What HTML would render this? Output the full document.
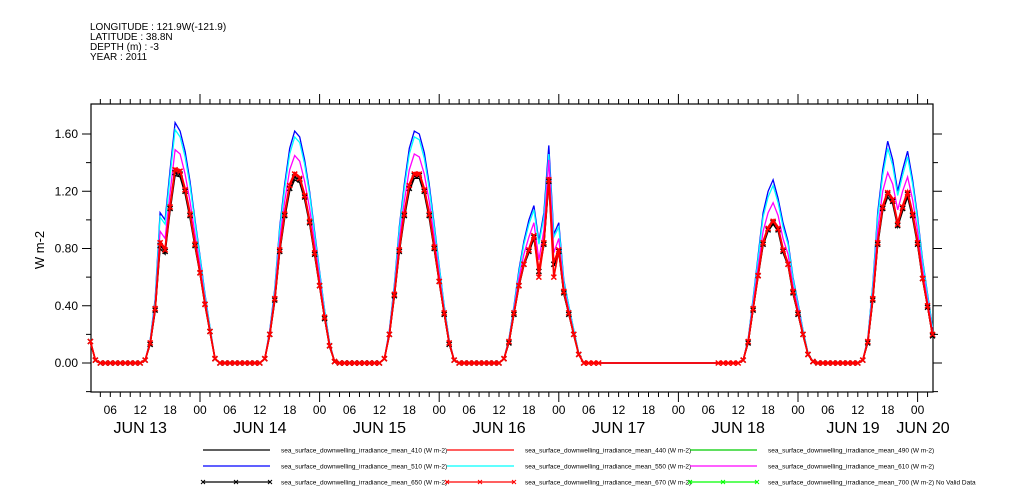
<!DOCTYPE html>
<html><head><meta charset="utf-8"><style>
html,body{margin:0;padding:0;background:#fff;}
svg{display:block;font-family:"Liberation Sans",sans-serif;}
</style></head><body>
<svg id="chart" width="1009" height="504" viewBox="0 0 1009 504" xmlns="http://www.w3.org/2000/svg">
<g font-size="10" fill="#000">
<text x="90" y="30">LONGITUDE : 121.9W(-121.9)</text>
<text x="90" y="40">LATITUDE : 38.8N</text>
<text x="90" y="50">DEPTH (m) : -3</text>
<text x="90" y="60">YEAR : 2011</text>
</g>
<text x="44" y="250" font-size="13" text-anchor="middle" transform="rotate(-90 44 250)">W m-2</text>
<g id="axes"></g>
<g id="series"></g>
<g id="legend"></g>
</svg>
<script>
// hourly values, t = 2 .. 171 hours from JUN 13 00:00
const startHour = 2;
const yTicks = [0, 0.4, 0.8, 1.2, 1.6];
const yTickLabels = ["0.00", "0.40", "0.80", "1.20", "1.60"];
const dayLabels = ["JUN 13", "JUN 14", "JUN 15", "JUN 16", "JUN 17", "JUN 18", "JUN 19", "JUN 20"];
const hourLabels = ["00", "06", "12", "18"];
const Z9 = [0,0,0,0,0,0,0,0,0];
const Z31 = [0,0,0,0,0,0,0,0,0,0,0,0,0,0,0,0,0,0,0,0,0,0,0,0,0,0,0,0,0,0,0];
const s410 = [0.14,0.02, ...Z9, 0.02,0.13,0.36,0.8,0.76,1.06,1.31,1.3,1.18,1.01,0.81,0.62,0.4,0.21,0.03, ...Z9,
  0.03,0.19,0.43,0.77,1.01,1.2,1.28,1.26,1.14,0.97,0.75,0.53,0.31,0.11,0.01, ...Z9,
  0.03,0.19,0.46,0.77,1.01,1.2,1.29,1.29,1.18,1.01,0.79,0.56,0.34,0.13,0.02, ...Z9,
  0.03,0.14,0.34,0.53,0.68,0.77,0.87,0.63,0.82,1.25,0.68,0.77,0.48,0.34,0.19,0.06,0, ...Z31,
  0.02,0.14,0.37,0.6,0.82,0.92,0.97,0.92,0.77,0.68,0.48,0.34,0.19,0.06,0.01, ...Z9,
  0.02,0.14,0.43,0.82,1.06,1.16,1.11,0.95,1.06,1.16,1.01,0.82,0.58,0.39,0.19];
const s440 = [0.15,0.02, ...Z9, 0.02,0.14,0.38,0.85,0.8,1.1,1.36,1.35,1.22,1.05,0.84,0.64,0.42,0.22,0.03, ...Z9,
  0.03,0.2,0.45,0.8,1.05,1.25,1.33,1.3,1.18,1.0,0.78,0.55,0.32,0.12,0.01, ...Z9,
  0.03,0.2,0.48,0.8,1.05,1.25,1.33,1.33,1.22,1.05,0.82,0.58,0.35,0.14,0.02, ...Z9,
  0.03,0.15,0.35,0.55,0.7,0.8,0.9,0.65,0.85,1.3,0.7,0.8,0.5,0.35,0.2,0.06,0, ...Z31,
  0.02,0.15,0.38,0.62,0.85,0.95,1.0,0.95,0.8,0.7,0.5,0.35,0.2,0.06,0.01, ...Z9,
  0.02,0.15,0.45,0.85,1.1,1.2,1.15,0.98,1.1,1.2,1.05,0.85,0.6,0.4,0.2];
const s510 = [0.15,0.02, ...Z9, 0.02,0.16,0.45,1.05,1.0,1.35,1.68,1.62,1.48,1.27,1.0,0.75,0.48,0.25,0.03, ...Z9,
  0.03,0.23,0.52,0.95,1.25,1.5,1.62,1.58,1.42,1.2,0.92,0.64,0.37,0.14,0.01, ...Z9,
  0.03,0.23,0.55,0.95,1.25,1.5,1.62,1.6,1.47,1.25,0.97,0.68,0.4,0.16,0.02, ...Z9,
  0.03,0.17,0.4,0.65,0.85,1.0,1.1,0.85,1.05,1.52,0.9,0.98,0.58,0.4,0.23,0.07,0, ...Z31,
  0.02,0.17,0.45,0.75,1.05,1.2,1.28,1.15,0.98,0.85,0.6,0.42,0.23,0.07,0.01, ...Z9,
  0.02,0.17,0.55,1.05,1.35,1.55,1.42,1.2,1.35,1.48,1.28,1.02,0.72,0.48,0.25];
const s550 = [0.15,0.02, ...Z9, 0.02,0.16,0.44,1.02,0.97,1.31,1.63,1.58,1.44,1.24,0.98,0.74,0.47,0.25,0.03, ...Z9,
  0.03,0.22,0.51,0.93,1.22,1.46,1.58,1.54,1.39,1.18,0.9,0.63,0.37,0.14,0.01, ...Z9,
  0.03,0.22,0.54,0.93,1.22,1.46,1.58,1.56,1.43,1.22,0.95,0.67,0.4,0.16,0.02, ...Z9,
  0.03,0.17,0.39,0.63,0.83,0.97,1.07,0.83,1.02,1.46,0.88,0.95,0.57,0.4,0.23,0.07,0, ...Z31,
  0.02,0.17,0.44,0.73,1.02,1.16,1.24,1.12,0.95,0.83,0.59,0.41,0.23,0.07,0.01, ...Z9,
  0.02,0.17,0.54,1.02,1.31,1.5,1.38,1.17,1.31,1.44,1.25,1.0,0.71,0.47,0.25];
const s610 = [0.15,0.02, ...Z9, 0.02,0.15,0.41,0.92,0.87,1.19,1.49,1.46,1.32,1.13,0.9,0.68,0.44,0.23,0.03, ...Z9,
  0.03,0.21,0.48,0.86,1.13,1.35,1.45,1.41,1.27,1.08,0.84,0.59,0.34,0.13,0.01, ...Z9,
  0.03,0.21,0.51,0.86,1.13,1.35,1.46,1.44,1.32,1.13,0.88,0.62,0.37,0.15,0.02, ...Z9,
  0.03,0.16,0.37,0.59,0.76,0.88,0.98,0.72,0.93,1.42,0.77,0.87,0.53,0.37,0.21,0.06,0, ...Z31,
  0.02,0.16,0.41,0.67,0.92,1.05,1.12,1.03,0.87,0.76,0.54,0.38,0.21,0.06,0.01, ...Z9,
  0.02,0.16,0.49,0.93,1.2,1.33,1.25,1.07,1.2,1.3,1.14,0.92,0.65,0.43,0.22];
const s650 = [0.15,0.02, ...Z9, 0.02,0.13,0.37,0.82,0.78,1.08,1.33,1.32,1.2,1.03,0.82,0.63,0.41,0.22,0.03, ...Z9,
  0.03,0.2,0.44,0.78,1.03,1.22,1.3,1.28,1.16,0.98,0.76,0.54,0.31,0.12,0.01, ...Z9,
  0.03,0.2,0.47,0.78,1.03,1.22,1.31,1.31,1.2,1.03,0.8,0.57,0.34,0.13,0.02, ...Z9,
  0.03,0.14,0.34,0.54,0.69,0.78,0.88,0.64,0.83,1.27,0.69,0.78,0.49,0.34,0.2,0.06,0, null,null,null,...Z9.map(v=>null),...Z9.map(v=>null),null,null,null,null,null,null,null,null,null,null,
  0.02,0.14,0.37,0.61,0.83,0.93,0.98,0.93,0.78,0.69,0.49,0.34,0.2,0.06,0.01, ...Z9,
  0.02,0.14,0.44,0.83,1.08,1.18,1.13,0.96,1.08,1.18,1.03,0.83,0.59,0.39,0.19];
const s670 = [0.15,0.02, ...Z9, 0.02,0.14,0.38,0.84,0.79,1.09,1.35,1.34,1.21,1.04,0.83,0.63,0.41,0.22,0.03, ...Z9,
  0.03,0.2,0.45,0.79,1.04,1.24,1.32,1.29,1.17,0.99,0.77,0.54,0.32,0.12,0.01, ...Z9,
  0.03,0.2,0.48,0.79,1.04,1.24,1.32,1.32,1.21,1.04,0.81,0.57,0.35,0.14,0.02, ...Z9,
  0.03,0.15,0.35,0.54,0.69,0.79,0.89,0.6,0.84,1.28,0.6,0.79,0.5,0.35,0.2,0.06,0, 0,0,0,...Z9.map(v=>null),...Z9.map(v=>null),null,null,null,null,null,0,0,0,0,0,
  0.02,0.15,0.38,0.61,0.84,0.94,0.99,0.94,0.79,0.69,0.5,0.35,0.2,0.06,0.01, ...Z9,
  0.02,0.15,0.45,0.84,1.09,1.19,1.14,0.97,1.09,1.19,1.04,0.84,0.59,0.4,0.2];

const NS = "http://www.w3.org/2000/svg";
const L = 91, R = 933, T = 104, B = 392;
const Y0 = 363, PXU = (363 - 134) / 1.6;
const X0 = 80.4, PXH = 119.6 / 24;
const xScale = t => X0 + t * PXH;
const yScale = v => Y0 - v * PXU;
function mk(tag, attrs, parent) { const e = document.createElementNS(NS, tag); for (const k in attrs) e.setAttribute(k, attrs[k]); parent.appendChild(e); return e; }
const axes = document.getElementById('axes');
const frame = mk('rect', {x:L, y:T, width:R-L, height:B-T, fill:'none', stroke:'#000', 'stroke-width':1.2}, axes);


const tMin = (L - X0) / PXH, tMax = (R - X0) / PXH;
for (let t = Math.ceil(tMin/2)*2; t <= tMax; t += 2) {
  const x = xScale(t), major = t % 24 === 0;
  const len = major ? 10 : 5;
  const tb = mk('line', {x1:x, x2:x, y1:B, y2:B+len, stroke:'#000'}, axes);
  
  
  const tt = mk('line', {x1:x, x2:x, y1:T, y2:T-len, stroke:'#000'}, axes);
  
  
  if (t % 6 === 0) {
    const lb = mk('text', {x:x, y:414, 'font-size':12, 'text-anchor':'middle'}, axes);
    lb.textContent = hourLabels[(t % 24) / 6];
    
    
  }
}
dayLabels.forEach((d, i) => {
  let x = xScale(i * 24 + 12);
  if (x > R) x = 923;
  if (i === 6) x = 853;
  const lb = mk('text', {x:x, y:433, 'font-size':16, 'text-anchor':'middle'}, axes);
  lb.textContent = d;
  
  
});
for (let i = -1; i <= 8; i++) {
  const v = i * 0.2, y = yScale(v);
  if (y > B || y < T) continue;
  const major = i % 2 === 0;
  const tl = mk('line', {x1:L - (major ? 9 : 5), x2:L, y1:y, y2:y, stroke:'#000'}, axes);
  
  
  const tr = mk('line', {x1:R, x2:R + (major ? 9 : 5), y1:y, y2:y, stroke:'#000'}, axes);
  
  
}
yTicks.forEach((v, i) => {
  const lb = mk('text', {x:78, y:yScale(v) + 4, 'font-size':12, 'text-anchor':'end'}, axes);
  lb.textContent = yTickLabels[i];
  
  
});
const sg = document.getElementById('series');
function drawLine(arr, color, name, marker, w) {
  let d = '', pen = false;
  arr.forEach((v, i) => {
    if (v === null) { pen = false; return; }
    const x = xScale(startHour + i), y = yScale(v);
    d += (pen ? 'L' : 'M') + x.toFixed(1) + ' ' + y.toFixed(1);
    pen = true;
  });
  const p = mk('path', {d:d, fill:'none', stroke:color, 'stroke-width':w}, sg);
  
  
  if (marker) {
    let md = '';
    arr.forEach((v, i) => {
      if (v === null) return;
      const x = xScale(startHour + i), y = yScale(v);
      md += `M${x-2.5} ${y-2.5}L${x+2.5} ${y+2.5}M${x-2.5} ${y+2.5}L${x+2.5} ${y-2.5}`;
    });
    const m = mk('path', {d:md, fill:'none', stroke:color, 'stroke-width':1.5}, sg);
    
    
  }
}
drawLine(s510, '#0000ff', 'series-510', false, 1.3);
drawLine(s550, '#00ffff', 'series-550', false, 1.3);
drawLine(s610, '#ff00ff', 'series-610', false, 1.3);
drawLine(s410, '#000000', 'series-410', false, 1.3);
drawLine(s650, '#000000', 'series-650', true, 1.3);
drawLine(s440, '#ff0000', 'series-440', false, 1.7);
drawLine(s670, '#ff0000', 'series-670', true, 1.7);
const lg = document.getElementById('legend');
const entries = [
  ['410','#000',false,203,450],['440','#f00',false,447,450],['490','#0c0',false,690,450],
  ['510','#00f',false,203,466],['550','#0ff',false,447,466],['610','#f0f',false,690,466],
  ['650','#000',true,203,482],['670','#f00',true,447,482],['700','#0f0',true,690,482]];
entries.forEach(e => {
  const g = mk('g', {}, lg);
  
  
  mk('line', {x1:e[3], x2:e[3]+67, y1:e[4], y2:e[4], stroke:e[1], 'stroke-width':1.2}, g);
  if (e[2]) [0, 33, 67].forEach(dx => {
    const x = e[3] + dx, y = e[4];
    mk('path', {d:`M${x-2} ${y-2}L${x+2} ${y+2}M${x-2} ${y+2}L${x+2} ${y-2}`, stroke:e[1], fill:'none'}, g);
  });
  const t = mk('text', {x:e[3]+78, y:e[4]+2.5, 'font-size':6.5}, g);
  t.textContent = 'sea_surface_downwelling_irradiance_mean_' + e[0] + ' (W m-2)' + (e[0]==='700' ? ' No Valid Data' : '');
});
</script>
</body></html>
